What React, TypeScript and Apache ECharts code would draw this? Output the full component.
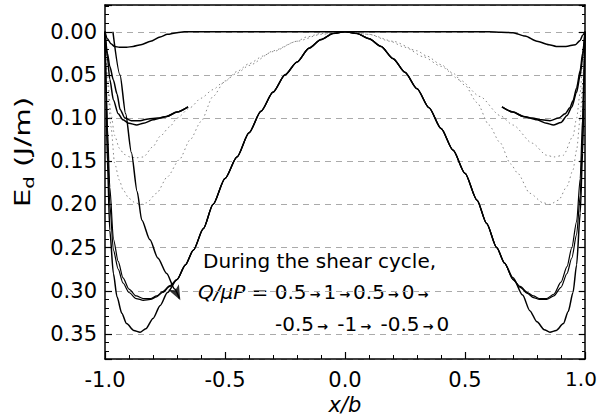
import React, { useEffect, useRef } from 'react';
import * as echarts from 'echarts';

const FONT = '"DejaVu Sans", "Liberation Sans", Arial, sans-serif';

// x tick labels (x/b) and y tick labels (Ed)
const xTicks = [-1.0, -0.5, 0.0, 0.5, 1.0];
const yTicks = [0.0, 0.05, 0.1, 0.15, 0.2, 0.25, 0.3, 0.35];

// Curve A: shallow dip near the edges, flat zero in the middle
const aX = [-1, -0.99, -0.975, -0.96, -0.94, -0.91, -0.883, -0.85, -0.81, -0.77, -0.74, -0.7, -0.67, -0.5, -0.25, 0, 0.25, 0.5, 0.6, 0.65, 0.7, 0.75, 0.8, 0.85, 0.88, 0.92, 0.96, 0.98, 0.99, 1];
const aY = [0, 0.008, 0.014, 0.017, 0.018, 0.018, 0.017, 0.015, 0.011, 0.006, 0.003, 0.001, 0, 0, 0, 0, 0, 0, 0, 0.0005, 0.001, 0.005, 0.011, 0.015, 0.017, 0.017, 0.015, 0.01, 0.004, 0];

// Curves B1, B2: minimum ~0.10, broken in the middle (left and right pieces)
const b1LX = [-1, -0.99, -0.98, -0.965, -0.95, -0.937, -0.917, -0.89, -0.854, -0.82, -0.78, -0.743, -0.7, -0.654];
const b1LY = [0, 0.025, 0.04, 0.056, 0.072, 0.09, 0.1, 0.103, 0.103, 0.101, 0.1, 0.098, 0.093, 0.087];
const b1RX = [0.654, 0.7, 0.743, 0.78, 0.82, 0.854, 0.89, 0.917, 0.937, 0.95, 0.965, 0.98, 0.99, 1];
const b1RY = [0.087, 0.093, 0.098, 0.1, 0.102, 0.103, 0.1, 0.095, 0.088, 0.08, 0.065, 0.045, 0.025, 0];
const b2LX = [-1, -0.99, -0.98, -0.965, -0.945, -0.925, -0.9, -0.868, -0.84, -0.8, -0.743, -0.7, -0.654];
const b2LY = [0, 0.03, 0.055, 0.079, 0.095, 0.102, 0.106, 0.108, 0.106, 0.102, 0.098, 0.093, 0.087];
const b2RX = [0.654, 0.7, 0.743, 0.8, 0.84, 0.868, 0.9, 0.925, 0.945, 0.965, 0.98, 0.99, 1];
const b2RY = [0.087, 0.093, 0.098, 0.102, 0.106, 0.108, 0.105, 0.097, 0.087, 0.07, 0.05, 0.03, 0];

// Curve C (dotted): minimum ~0.20
const cX = [-1, -0.99, -0.975, -0.96, -0.94, -0.925, -0.9, -0.875, -0.85, -0.826, -0.785, -0.74, -0.69, -0.645, -0.6, -0.55, -0.5, -0.45, -0.4, -0.34, -0.3, -0.2, -0.1, 0, 0.1, 0.2, 0.3, 0.34, 0.4, 0.45, 0.5, 0.55, 0.6, 0.645, 0.69, 0.72, 0.77, 0.825, 0.854, 0.89, 0.925, 0.95, 0.965, 0.98, 0.99, 1];
const cY = [0, 0.06, 0.11, 0.152, 0.172, 0.183, 0.193, 0.198, 0.2, 0.198, 0.187, 0.168, 0.148, 0.125, 0.104, 0.075, 0.057, 0.046, 0.037, 0.028, 0.022, 0.011, 0.003, 0, 0.003, 0.011, 0.022, 0.028, 0.038, 0.048, 0.062, 0.082, 0.108, 0.128, 0.153, 0.164, 0.187, 0.198, 0.2, 0.195, 0.179, 0.16, 0.137, 0.1, 0.06, 0];

// Curve D (dotted): minimum ~0.145
const dX = [-1, -0.99, -0.975, -0.96, -0.94, -0.92, -0.896, -0.87, -0.84, -0.8, -0.77, -0.73, -0.7, -0.646, -0.6, -0.55, -0.51, -0.45, -0.4, -0.3, -0.2, -0.16, -0.1, 0, 0.1, 0.1875, 0.25, 0.327, 0.4, 0.48, 0.5625, 0.646, 0.7, 0.78, 0.84, 0.87, 0.91, 0.95, 0.965, 0.98, 0.99, 1];
const dY = [0, 0.05, 0.095, 0.12, 0.135, 0.142, 0.145, 0.146, 0.145, 0.133, 0.121, 0.11, 0.1, 0.088, 0.077, 0.067, 0.059, 0.048, 0.039, 0.023, 0.011, 0.006, 0.002, 0, 0.003, 0.011, 0.018, 0.029, 0.04, 0.056, 0.075, 0.097, 0.108, 0.129, 0.143, 0.145, 0.143, 0.121, 0.1, 0.07, 0.04, 0];

// Shared central arc of the deep curves (E, F1, F2 overlap here)
const midX = [-0.665, -0.632, -0.59, -0.55, -0.5, -0.45, -0.4, -0.35, -0.3, -0.25, -0.2, -0.15, -0.1, -0.05, 0, 0.05, 0.1, 0.15, 0.2, 0.25, 0.3, 0.35, 0.4, 0.45, 0.5, 0.55, 0.59, 0.632, 0.665];
const midY = [0.27, 0.253, 0.228, 0.2, 0.17, 0.145, 0.117, 0.092, 0.07, 0.05, 0.035, 0.019, 0.009, 0.002, 0, 0.002, 0.008, 0.017, 0.031, 0.047, 0.066, 0.088, 0.112, 0.137, 0.164, 0.195, 0.222, 0.25, 0.268];

// Curve E: deepest, minimum ~0.35
const eLX = [-1, -0.995, -0.99, -0.98, -0.965, -0.95, -0.93, -0.91, -0.88, -0.854, -0.83, -0.8, -0.77, -0.74, -0.7];
const eLY = [0, 0.08, 0.15, 0.23, 0.28, 0.307, 0.326, 0.338, 0.346, 0.348, 0.344, 0.332, 0.317, 0.302, 0.287];
const eRX = [0.7, 0.74, 0.77, 0.8, 0.83, 0.854, 0.88, 0.91, 0.93, 0.95, 0.965, 0.98, 0.99, 0.995, 1];
const eRY = [0.285, 0.305, 0.323, 0.336, 0.345, 0.348, 0.346, 0.338, 0.324, 0.302, 0.27, 0.21, 0.14, 0.08, 0];

// Curves F1, F2: minimum ~0.31
const fLX = [-1, -0.995, -0.99, -0.98, -0.965, -0.945, -0.925, -0.9, -0.87, -0.84, -0.81, -0.785, -0.76, -0.73, -0.7];
const f1LY = [0, 0.07, 0.13, 0.2, 0.253, 0.275, 0.291, 0.302, 0.309, 0.311, 0.31, 0.307, 0.302, 0.295, 0.287];
const f2LY = [0, 0.06, 0.11, 0.18, 0.24, 0.266, 0.285, 0.298, 0.306, 0.309, 0.309, 0.306, 0.301, 0.294, 0.287];
const fRX = [0.7, 0.73, 0.76, 0.785, 0.81, 0.84, 0.87, 0.9, 0.925, 0.945, 0.965, 0.98, 0.99, 0.995, 1];
const f1RY = [0.287, 0.296, 0.303, 0.308, 0.31, 0.31, 0.306, 0.296, 0.28, 0.262, 0.235, 0.19, 0.12, 0.06, 0];
const f2RY = [0.287, 0.295, 0.302, 0.306, 0.309, 0.309, 0.304, 0.29, 0.272, 0.25, 0.22, 0.17, 0.1, 0.05, 0];

// Curved arrow annotation
const arrowX = [-0.967, -0.9375, -0.914, -0.89, -0.866, -0.847, -0.8125, -0.78, -0.743, -0.71, -0.69];
const arrowY = [0, 0.05, 0.095, 0.14, 0.185, 0.218, 0.241, 0.262, 0.28, 0.298, 0.309];
const arrowHead = [[-0.686, 0.311]];

const pairs = (xs: number[], ys: number[]) => xs.map((x, i) => [x, ys[i]]);
const join = (...parts: number[][][]) => ([] as number[][]).concat(...parts);

export default function App() {
  const ref = useRef<HTMLDivElement>(null);
  useEffect(() => {
    if (!ref.current) return;
    const chart = echarts.init(ref.current, null, { renderer: 'svg' });
    const solid = { color: '#000', width: 1.5, type: 'solid' as const };
    const dotted = { color: '#888', width: 1, type: [1.5, 3] as any };
    const lineSeries = (data: number[][], style: any, z = 3) => ({
      type: 'line',
      data,
      showSymbol: false,
      symbol: 'none',
      smooth: 0.25,
      smoothMonotone: 'x',
      lineStyle: style,
      z,
      silent: true,
    });
    const yMin = -0.031;
    const yMax = 0.379;
    const isTick = (v: number, ticks: number[]) => ticks.some((t) => Math.abs(t - v) < 1e-6);
    const axisLineStyle = { color: '#000', width: 1.5 };
    const option: any = {
      animation: false,
      backgroundColor: '#fff',
      grid: { left: 105, right: 15, top: 5, bottom: 59, containLabel: false, outerBoundsMode: 'none' },
      xAxis: [
        {
          type: 'value', min: -1, max: 1, interval: 0.5, position: 'bottom',
          axisLine: { show: true, onZero: false, lineStyle: axisLineStyle },
          axisTick: { show: true, inside: true, length: 7, lineStyle: { color: '#000', width: 1.2 } },
          minorTick: { show: true, splitNumber: 5, length: 4, lineStyle: { color: '#000', width: 1 } },
          axisLabel: {
            color: '#000', fontSize: 21, fontFamily: FONT, margin: 10,
            formatter: (v: number) => {
              if (!isTick(v, xTicks)) return '';
              return v >= 1 - 1e-9 ? '{m|' + v.toFixed(1) + '}' : v.toFixed(1);
            },
            rich: { m: { fontSize: 20, fontFamily: FONT, color: '#000', padding: [0, 8, 0, 0] } },
          },
          splitLine: { show: false },
          name: 'x/b', nameLocation: 'middle', nameGap: 32,
          nameTextStyle: { color: '#000', fontSize: 21, fontStyle: 'italic', fontFamily: FONT },
        },
        {
          type: 'value', min: -1, max: 1, interval: 0.5, position: 'top',
          axisLine: { show: true, onZero: false, lineStyle: axisLineStyle },
          axisTick: { show: false }, axisLabel: { show: false }, splitLine: { show: false },
        },
      ],
      yAxis: [
        {
          type: 'value', inverse: true, min: yMin, max: yMax, splitNumber: 8, position: 'left',
          axisLine: { show: true, onZero: false, lineStyle: axisLineStyle },
          axisTick: { show: true, inside: true, length: 7, lineStyle: { color: '#000', width: 1.2 } },
          minorTick: { show: true, splitNumber: 5, length: 4, lineStyle: { color: '#000', width: 1 } },
          axisLabel: {
            color: '#000', fontSize: 21, fontFamily: FONT, margin: 8,
            showMinLabel: false, showMaxLabel: false,
            formatter: (v: number) => (isTick(v, yTicks) ? v.toFixed(2) : ''),
          },
          splitLine: { show: true, lineStyle: { color: '#aaa', width: 1, type: [6, 5] } },
        },
        {
          type: 'value', inverse: true, min: yMin, max: yMax, splitNumber: 8, position: 'right',
          axisLine: { show: true, onZero: false, lineStyle: axisLineStyle },
          axisTick: { show: true, inside: true, length: 6, lineStyle: { color: '#000', width: 1.2 } },
          minorTick: { show: true, splitNumber: 5, length: 3, lineStyle: { color: '#000', width: 1 } },
          axisLabel: { show: false }, splitLine: { show: false },
        },
      ],
      series: [
        lineSeries(pairs(cX, cY), dotted, 2),
        lineSeries(pairs(dX, dY), dotted, 2),
        lineSeries(pairs(aX, aY), solid),
        lineSeries(pairs(b1LX, b1LY), solid),
        lineSeries(pairs(b1RX, b1RY), solid),
        lineSeries(pairs(b2LX, b2LY), solid),
        lineSeries(pairs(b2RX, b2RY), solid),
        lineSeries(join(pairs(eLX, eLY), pairs(midX, midY), pairs(eRX, eRY)), solid),
        lineSeries(join(pairs(fLX, f1LY), pairs(midX, midY), pairs(fRX, f1RY)), { ...solid, width: 1.2 }),
        lineSeries(join(pairs(fLX, f2LY), pairs(midX, midY), pairs(fRX, f2RY)), { ...solid, width: 1.2 }),
        lineSeries(pairs(arrowX, arrowY), solid, 4),
        {
          type: 'scatter', data: arrowHead, symbol: 'arrow', symbolSize: [9, 15], symbolRotate: 207,
          itemStyle: { color: '#000' }, z: 5, silent: true,
        },
      ],
      graphic: [
        {
          type: 'text', x: 23, y: 152, rotation: Math.PI / 2, scaleX: 1.4,
          style: {
            text: '{e|E}{s|d}{e| (J/m)}',
            rich: {
              e: { fontSize: 21, fontFamily: FONT, lineHeight: 26, fill: '#000' },
              s: { fontSize: 14, fontFamily: FONT, lineHeight: 14, verticalAlign: 'bottom', fill: '#000' },
            },
            align: 'center', verticalAlign: 'middle', fill: '#000',
          },
        },
        {
          type: 'text', x: 203, y: 261,
          style: { text: 'During the shear cycle,', fontSize: 20, fontFamily: FONT, fill: '#000', align: 'left', verticalAlign: 'middle' },
        },
        {
          type: 'text', x: 198, y: 292,
          style: {
            text: '{i|Q/μP}{n| = 0.5}{a|→}{n|1}{a|→}{n|0.5}{a|→}{n|0}{a|→}',
            rich: {
              i: { fontSize: 20, fontFamily: FONT, fontStyle: 'italic', fill: '#000' },
              n: { fontSize: 20, fontFamily: FONT, fill: '#000' },
              a: { fontSize: 13, fontFamily: FONT, fontWeight: 'bold', fill: '#000', padding: [4, 3, 0, 3] },
            },
            align: 'left', verticalAlign: 'middle',
          },
        },
        {
          type: 'text', x: 275, y: 324,
          style: {
            text: '{n|-0.5}{a|→}{n| -1}{a|→}{n| -0.5}{a|→}{n|0}',
            rich: {
              n: { fontSize: 20, fontFamily: FONT, fill: '#000' },
              a: { fontSize: 13, fontFamily: FONT, fontWeight: 'bold', fill: '#000', padding: [4, 3, 0, 3] },
            },
            align: 'left', verticalAlign: 'middle',
          },
        },
      ],
    };
    chart.setOption(option);
    return () => chart.dispose();
  }, []);
  return (
    <div
      ref={ref}
      style={{ position: 'fixed', left: 0, top: 0, width: 600, height: 418, background: '#fff' }}
    />
  );
}
